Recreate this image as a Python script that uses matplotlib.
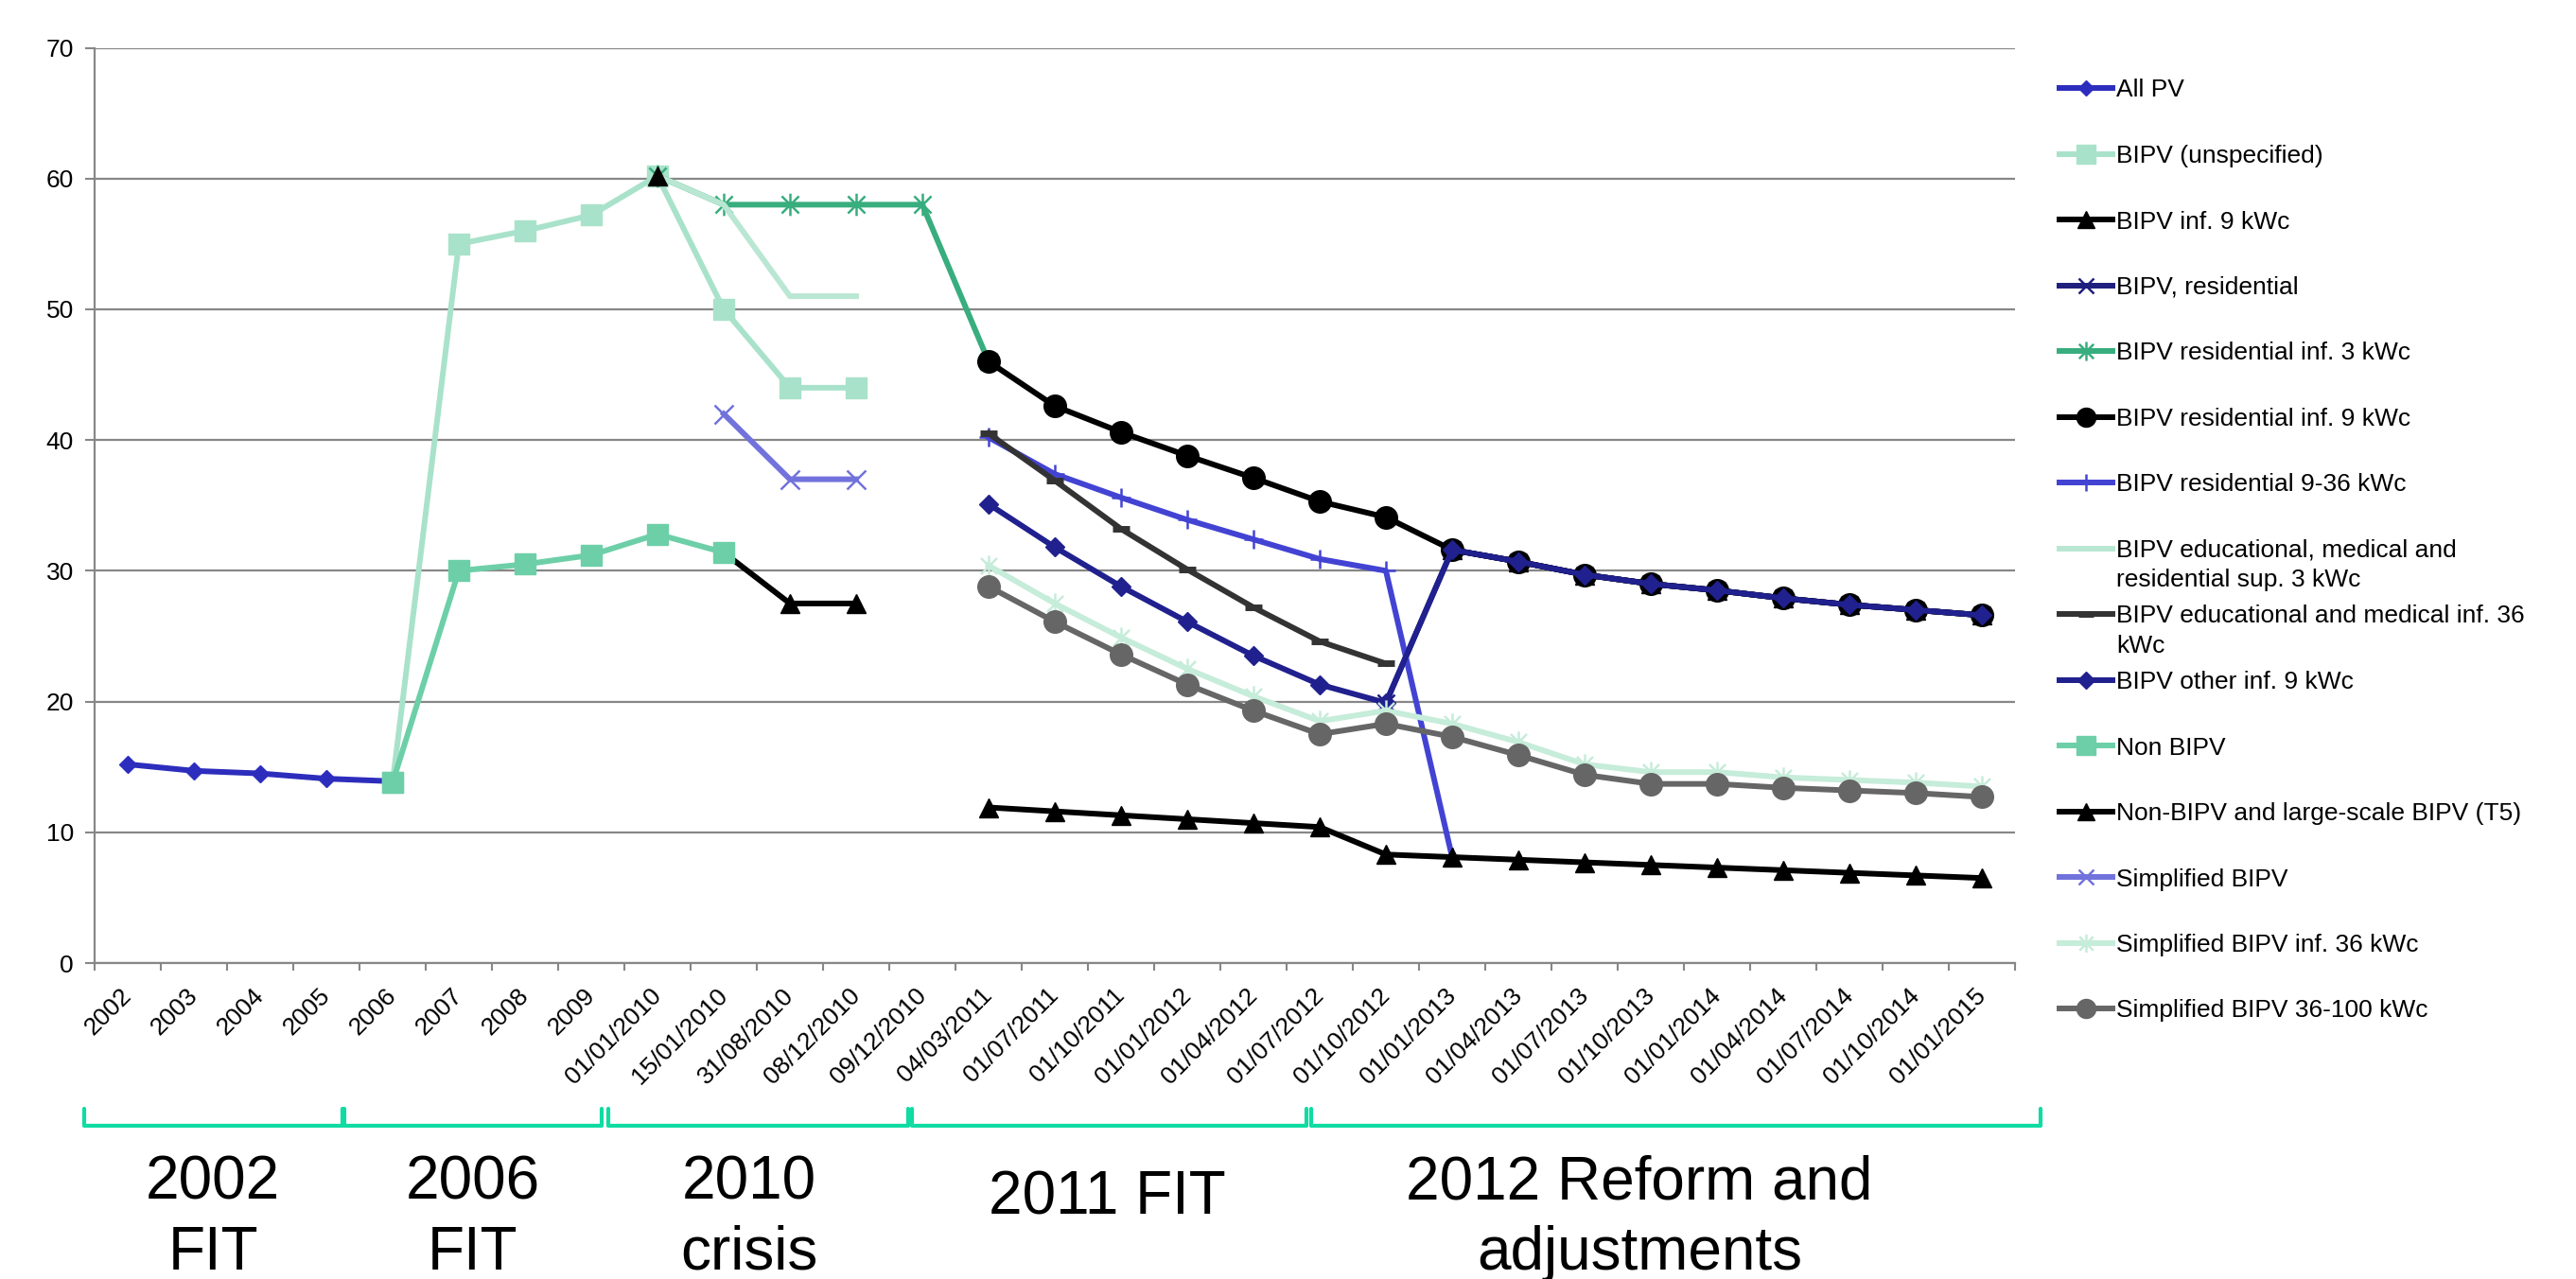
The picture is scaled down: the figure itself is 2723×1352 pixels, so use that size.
import numpy as np
import matplotlib.pyplot as plt
import matplotlib.transforms as mtransforms
from matplotlib.lines import Line2D
from matplotlib.path import Path

plt.rcParams['font.family'] = ['Liberation Sans', 'DejaVu Sans']

# categories on the x axis
categories = ["2002", "2003", "2004", "2005", "2006", "2007", "2008", "2009",
              "01/01/2010", "15/01/2010", "31/08/2010", "08/12/2010", "09/12/2010",
              "04/03/2011", "01/07/2011", "01/10/2011", "01/01/2012", "01/04/2012",
              "01/07/2012", "01/10/2012", "01/01/2013", "01/04/2013", "01/07/2013",
              "01/10/2013", "01/01/2014", "01/04/2014", "01/07/2014", "01/10/2014",
              "01/01/2015"]

n = [np.nan]
late = [31.6, 30.7, 29.7, 29.0, 28.5, 27.9, 27.4, 27.0, 26.6]

all_pv = [15.2, 14.7, 14.5, 14.1, 13.9] + n * 24
bipv_unspec = n * 4 + [13.8, 55.0, 56.0, 57.2, 60.2, 50.0, 44.0, 44.0] + n * 17
bipv_inf9 = n * 9 + [31.4, 27.5, 27.5] + n * 8 + late
bipv_res = n * 19 + [19.9] + late
res_inf3 = n * 8 + [60.2, 58.0, 58.0, 58.0, 58.0, 46.0] + n * 15
res_inf9 = n * 13 + [46.0, 42.6, 40.6, 38.8, 37.1, 35.3, 34.1] + late
res_9_36 = n * 13 + [40.2, 37.4, 35.6, 33.9, 32.4, 30.9, 30.0, 8.1] + n * 8
edu_sup3 = n * 8 + [60.2, 58.0, 51.0, 51.0] + n * 17
edu_inf36 = n * 13 + [40.5, 36.9, 33.2, 30.1, 27.2, 24.6, 22.9] + n * 9
other_inf9 = n * 13 + [35.1, 31.8, 28.8, 26.1, 23.5, 21.3, 19.9] + late
non_bipv = n * 4 + [13.8, 30.0, 30.5, 31.2, 32.8, 31.4] + n * 19
t5 = n * 8 + [60.2] + n * 4 + [11.9, 11.6, 11.3, 11.0, 10.7, 10.4, 8.3, 8.1,
                               7.9, 7.7, 7.5, 7.3, 7.1, 6.9, 6.7, 6.5]
simpl = n * 9 + [42.0, 37.0, 37.0] + n * 17
simpl_inf36 = n * 13 + [30.4, 27.5, 24.9, 22.5, 20.4, 18.5, 19.3, 18.3,
                        16.9, 15.2, 14.6, 14.6, 14.2, 14.0, 13.8, 13.5]
simpl_36_100 = n * 13 + [28.8, 26.1, 23.6, 21.3, 19.3, 17.5, 18.3, 17.3,
                         15.9, 14.4, 13.7, 13.7, 13.4, 13.2, 13.0, 12.7]

# periods below the chart
periods = ["2002\nFIT", "2006\nFIT", "2010\ncrisis", "2011 FIT", "2012 Reform and\nadjustments"]

# asterisk like the Excel star marker
star = Path([(-1, -1), (1, 1), (-1, 1), (1, -1), (0, -1.3), (0, 1.3)],
            [Path.MOVETO, Path.LINETO] * 3)

series = [
    ("All PV", all_pv, dict(color='#2d2dbd', marker='D', ms=9)),
    ("BIPV (unspecified)", bipv_unspec, dict(color='#a9e2ca', marker='s', ms=16.5)),
    ("BIPV inf. 9 kWc", bipv_inf9, dict(color='black', marker='^', ms=15)),
    ("BIPV, residential", bipv_res, dict(color='#1f1f7e', marker='x', ms=13, mew=1.8)),
    ("BIPV residential inf. 3 kWc", res_inf3, dict(color='#38ad7e', marker=star, ms=17, mew=1.8)),
    ("BIPV residential inf. 9 kWc", res_inf9, dict(color='black', marker='o', ms=17)),
    ("BIPV residential 9-36 kWc", res_9_36, dict(color='#4343d3', marker='+', ms=15, mew=1.8)),
    ("BIPV educational, medical and\nresidential sup. 3 kWc", edu_sup3, dict(color='#b9e7d3', marker=None)),
    ("BIPV educational and medical inf. 36\nkWc", edu_inf36, dict(color='#333333', marker='_', ms=13, mew=5)),
    ("BIPV other inf. 9 kWc", other_inf9, dict(color='#20208e', marker='D', ms=10.5)),
    ("Non BIPV", non_bipv, dict(color='#6dcfa8', marker='s', ms=16.5)),
    ("Non-BIPV and large-scale BIPV (T5)", t5, dict(color='black', marker='^', ms=15)),
    ("Simplified BIPV", simpl, dict(color='#7272dc', marker='x', ms=14, mew=1.8)),
    ("Simplified BIPV inf. 36 kWc", simpl_inf36, dict(color='#c6ecda', marker=star, ms=16, mew=1.8)),
    ("Simplified BIPV 36-100 kWc", simpl_36_100, dict(color='#666666', marker='o', ms=17)),
]

W, H = 2723, 1352
fig = plt.figure(figsize=(W / 100, H / 100), dpi=100)
ax = fig.add_axes([100 / W, 1 - 1018 / H, 2030 / W, 967.5 / H])

x = np.arange(len(categories))
for i, (label, vals, st) in enumerate(series):
    st = dict(st)
    col = st.pop('color')
    ax.plot(x, np.array(vals, dtype=float), color=col, lw=4.3,
            mfc=col, mec=col, zorder=3 + i, clip_on=False, **st)

ax.set_xlim(-0.5, len(categories) - 0.5)
ax.set_ylim(0, 70)
ax.set_yticks(np.arange(0, 71, 10))
ax.yaxis.grid(True, color='#878787', lw=1.6)
ax.set_axisbelow(True)
for s in ['top', 'right']:
    ax.spines[s].set_visible(False)
for s in ['left', 'bottom']:
    ax.spines[s].set_color('#878787')
    ax.spines[s].set_linewidth(1.6)

ax.set_xticks(np.arange(-0.5, len(categories), 1.0))
ax.set_xticklabels([])
ax.set_xticks(x, minor=True)
ax.set_xticklabels(categories, minor=True, rotation=45, ha='right', va='center',
                   rotation_mode='anchor', fontsize=19)
ax.tick_params(axis='x', which='major', length=6, width=1.5, color='#878787')
ax.tick_params(axis='x', which='minor', length=0, pad=22)
ax.tick_params(axis='y', length=7, width=1.5, color='#878787', labelsize=19, pad=9)

# legend drawn by hand: fixed slot height, wrapped labels run downwards
hx0, hxm, hx1, tx = 2177 / W, 2205 / W, 2233 / W, 2237 / W
for i, (label, vals, st) in enumerate(series):
    st = dict(st)
    col = st.pop('color')
    if 'ms' in st:
        st['ms'] = st['ms'] * 0.85
    yc = 1 - (93 + 69.5 * i) / H
    ln = Line2D([hx0, hxm, hx1], [yc, yc, yc], transform=fig.transFigure, color=col,
                lw=4.3, mfc=col, mec=col, markevery=[1], **st)
    fig.add_artist(ln)
    for k, part in enumerate(label.split("\n")):
        fig.text(tx, yc - (9.5 + 31 * k) / H, part, fontsize=19,
                 va='baseline', ha='left')

# brackets and period labels
trans = mtransforms.blended_transform_factory(ax.transData, fig.transFigure)
brackets = [(-0.66, 3.24), (3.27, 7.16), (7.26, 11.79), (11.84, 17.8), (17.87, 28.89)]
label_x = [1.29, 5.21, 9.39, 14.79, 22.83]
yt, yb = 1 - 1172 / H, 1 - 1190 / H
for (b0, b1), lx, txt in zip(brackets, label_x, periods):
    fig.add_artist(Line2D([b0, b0, b1, b1], [yt, yb, yb, yt], transform=trans,
                          color='#10dba3', lw=3, solid_joinstyle='round',
                          solid_capstyle='round'))
    parts = txt.split("\n")
    base = 1284 if len(parts) == 1 else 1268
    for k, part in enumerate(parts):
        fig.text(lx, 1 - (base + 74 * k) / H, part, transform=trans, fontsize=46,
                 ha='center', va='baseline')

fig.savefig("out.png", dpi=100)
